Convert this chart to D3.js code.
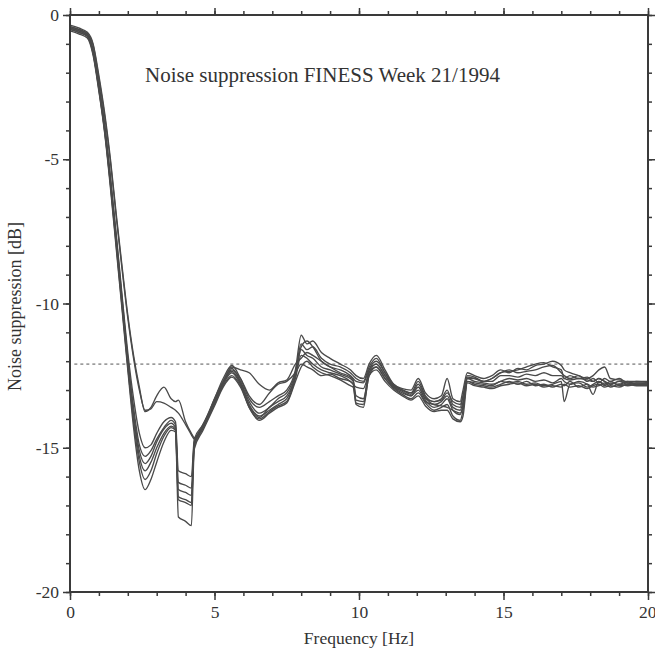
<!DOCTYPE html>
<html><head><meta charset="utf-8">
<script src="https://cdn.jsdelivr.net/npm/d3@7"></script>
<style>body{margin:0;background:#fff}svg text{font-family:"Liberation Serif","Times New Roman",serif;fill:#333}</style>
</head><body><svg id="c" width="655" height="653"></svg>
<script>
const freq = [0,0.3,0.6,0.8,1.0,1.2,1.4,1.6,1.8,2.0,2.2,2.4,2.6,2.8,3.0,
  3.25,3.5,3.65,3.75,4.0,4.2,4.3,4.6,
  5.0,5.3,5.6,5.9,6.2,6.55,6.9,7.2,7.5,7.8,8.0,8.2,8.4,8.7,9.0,
  9.35,9.7,9.8,9.9,10.15,10.35,10.6,10.9,11.2,11.5,11.8,12.05,12.3,12.6,12.85,
  13.05,13.25,13.5,13.6,13.75,14.0,14.3,14.6,14.9,15.2,15.5,15.8,16.1,
  16.4,16.7,17.0,17.1,17.3,17.6,17.9,18.1,18.3,18.5,18.7,19.0,19.3,19.6,20.0];

const seriesA = [-0.35,-0.45,-0.6,-1.0,-2.1,-3.4,-5.0,-6.9,-8.7,-10.4,-11.8,-12.9,-13.75,-13.6,-13.2,
  -12.9,-13.3,-13.4,-13.35,-14.1,-14.5,-14.65,-14.3,
  -13.3,-12.7,-12.2,-12.3,-12.4,-12.8,-13.0,-12.75,-12.65,-12.1,-11.9,-11.7,-11.8,-12.0,-12.2,
  -12.3,-12.5,-12.6,-12.7,-12.75,-12.3,-12.1,-12.5,-12.85,-13.0,-13.1,-12.9,-13.3,-13.4,-13.35,
  -13.1,-13.4,-13.5,-13.2,-12.6,-12.6,-12.7,-12.6,-12.4,-12.35,-12.3,-12.2,-12.1,
  -12.05,-12.2,-12.3,-12.6,-12.5,-12.6,-12.55,-12.7,-12.6,-12.7,-12.8,-12.7,-12.8,-12.75,-12.75];
const seriesB = [-0.4,-0.5,-0.65,-1.05,-2.2,-3.5,-5.1,-7.0,-8.8,-10.5,-11.9,-13.0,-13.7,-13.65,-13.4,
  -13.45,-13.6,-13.7,-13.8,-14.2,-14.55,-14.7,-14.2,
  -13.4,-12.75,-12.3,-12.6,-13.2,-13.5,-13.1,-12.8,-12.7,-12.4,-12.1,-12.2,-12.3,-12.5,-12.45,
  -12.6,-12.7,-12.8,-13.45,-13.5,-12.5,-12.2,-12.6,-12.9,-13.05,-13.2,-13.0,-13.4,-13.5,-13.55,
  -13.6,-13.7,-13.8,-13.6,-12.7,-12.75,-12.8,-12.85,-12.7,-12.75,-12.7,-12.8,-12.75,
  -12.85,-12.8,-12.7,-13.4,-12.8,-12.75,-12.9,-12.8,-12.7,-12.85,-12.75,-12.8,-12.7,-12.8,-12.8];
const seriesC = [-0.4,-0.5,-0.65,-1.2,-2.4,-3.8,-5.6,-7.6,-9.7,-11.7,-13.3,-14.5,-15.0,-14.9,-14.5,
  -14.1,-13.95,-14.1,-15.8,-15.9,-16.0,-14.7,-14.2,
  -13.3,-12.6,-12.15,-12.6,-13.3,-13.6,-13.4,-13.2,-13.0,-12.3,-11.1,-11.4,-11.3,-11.7,-11.9,
  -12.1,-12.3,-12.4,-12.5,-12.6,-12.1,-11.8,-12.3,-12.8,-12.95,-13.0,-12.6,-13.1,-13.3,-13.2,
  -12.6,-13.3,-13.4,-13.0,-12.4,-12.5,-12.6,-12.5,-12.3,-12.4,-12.25,-12.3,-12.15,
  -12.1,-12.0,-12.15,-12.3,-12.4,-12.5,-12.6,-12.5,-12.3,-12.2,-12.6,-12.65,-12.7,-12.7,-12.7];
const seriesD = [-0.45,-0.55,-0.7,-1.25,-2.45,-3.85,-5.7,-7.7,-9.8,-11.9,-13.6,-14.9,-15.3,-15.1,-14.7,
  -14.3,-14.05,-14.2,-16.2,-16.3,-16.4,-14.8,-14.25,
  -13.35,-12.7,-12.25,-12.7,-13.4,-13.8,-13.6,-13.3,-13.1,-12.4,-11.4,-11.6,-11.5,-11.9,-12.1,
  -12.2,-12.4,-12.5,-12.6,-12.7,-12.2,-11.9,-12.4,-12.85,-13.0,-13.1,-12.7,-13.2,-13.4,-13.3,
  -13.0,-13.5,-13.6,-13.2,-12.5,-12.55,-12.7,-12.6,-12.4,-12.3,-12.4,-12.35,-12.3,
  -12.2,-12.15,-12.4,-12.5,-12.6,-12.5,-12.7,-12.6,-12.75,-12.6,-12.7,-12.6,-12.75,-12.7,-12.75];
const seriesE = [-0.5,-0.6,-0.72,-1.3,-2.5,-3.9,-5.75,-7.8,-9.9,-12.0,-13.8,-15.1,-15.55,-15.3,-14.8,
  -14.35,-14.15,-14.3,-16.45,-16.55,-16.65,-14.85,-14.3,
  -13.4,-12.75,-12.35,-12.75,-13.5,-13.9,-13.7,-13.5,-13.3,-12.5,-11.6,-11.8,-11.9,-12.2,-12.3,
  -12.45,-12.6,-12.7,-13.2,-13.3,-12.4,-12.1,-12.5,-12.9,-13.1,-13.2,-12.9,-13.35,-13.6,-13.5,
  -13.3,-13.7,-13.85,-13.5,-12.6,-12.7,-12.75,-12.8,-12.7,-12.6,-12.65,-12.6,-12.7,
  -12.65,-12.75,-12.6,-12.7,-12.8,-12.7,-12.8,-13.15,-12.7,-12.8,-12.7,-12.85,-12.8,-12.75,-12.8];
const seriesF = [-0.45,-0.55,-0.7,-1.3,-2.55,-4.0,-5.85,-7.9,-10.0,-12.1,-13.9,-15.3,-15.8,-15.5,-15.0,
  -14.5,-14.25,-14.35,-16.7,-16.8,-16.9,-14.9,-14.3,
  -13.45,-12.8,-12.4,-12.8,-13.6,-14.0,-13.75,-13.55,-13.4,-12.6,-11.8,-11.9,-12.1,-12.3,-12.4,
  -12.5,-12.7,-12.8,-12.9,-12.95,-12.4,-12.2,-12.6,-12.95,-13.15,-13.3,-13.1,-13.45,-13.7,-13.6,
  -13.5,-13.9,-14.05,-13.7,-12.7,-12.8,-12.85,-12.9,-12.8,-12.7,-12.8,-12.7,-12.85,
  -12.8,-12.9,-12.8,-12.85,-12.7,-12.9,-12.8,-12.9,-12.85,-12.75,-12.9,-12.8,-12.85,-12.8,-12.8];
const seriesG = [-0.5,-0.6,-0.75,-1.35,-2.6,-4.05,-5.9,-8.0,-10.1,-12.2,-14.1,-15.5,-16.1,-15.8,-15.2,
  -14.6,-14.3,-14.4,-16.8,-16.9,-17.0,-14.95,-14.35,
  -13.5,-12.85,-12.5,-12.85,-13.55,-13.95,-13.6,-13.4,-13.2,-12.5,-11.5,-11.3,-11.5,-12.0,-12.2,
  -12.4,-12.55,-12.65,-13.35,-13.4,-12.3,-12.0,-12.4,-12.8,-13.0,-13.15,-12.8,-13.25,-13.5,-13.4,
  -13.2,-13.6,-13.7,-13.4,-12.55,-12.6,-12.7,-12.7,-12.5,-12.5,-12.55,-12.45,-12.5,
  -12.4,-12.5,-12.5,-12.6,-12.65,-12.6,-12.65,-12.7,-12.6,-12.7,-12.8,-12.7,-12.75,-12.8,-12.8];
const seriesH = [-0.55,-0.65,-0.8,-1.4,-2.65,-4.1,-6.0,-8.1,-10.2,-12.3,-14.3,-15.8,-16.45,-16.1,-15.5,
  -14.8,-14.4,-14.45,-17.4,-17.55,-17.7,-15.05,-14.4,
  -13.55,-12.9,-12.55,-12.9,-13.6,-14.05,-13.8,-13.6,-13.45,-12.7,-12.2,-12.0,-12.2,-12.4,-12.5,
  -12.65,-12.85,-12.9,-13.5,-13.6,-12.5,-12.3,-12.7,-13.0,-13.2,-13.35,-13.2,-13.55,-13.75,-13.7,
  -13.7,-14.0,-14.1,-13.9,-12.75,-12.85,-12.9,-12.95,-12.85,-12.8,-12.75,-12.85,-12.8,
  -12.9,-12.85,-12.9,-12.8,-12.9,-12.85,-12.95,-12.85,-12.8,-12.9,-12.85,-12.9,-12.8,-12.85,-12.85];

const allSeries = [seriesA, seriesB, seriesC, seriesD, seriesE, seriesF, seriesG, seriesH];
const xTicks = [0, 5, 10, 15, 20];
const yTicks = [0, -5, -10, -15, -20];
const xMinor = d3.range(0, 21, 1);
const yMinor = d3.range(0, -21, -1);
const refLevel = -12.1;
const titleText = "Noise suppression FINESS Week 21/1994";
const xLabel = "Frequency [Hz]";
const yLabel = "Noise suppression [dB]";

const serif = '"Liberation Serif","Times New Roman",serif';
const svg = d3.select("#c");
const L = 70, R = 648, T = 15, B = 592;
const x = d3.scaleLinear().domain([0, 20]).range([L, R]);
const y = d3.scaleLinear().domain([0, -20]).range([T, B]);
const ink = "#3a3a3a";

// reference dashed line
svg.append("line")
  .attr("x1", x(0.15)).attr("x2", x(20)).attr("y1", y(refLevel)).attr("y2", y(refLevel))
  .attr("stroke", "#555").attr("stroke-width", 1).attr("stroke-dasharray", "3,3");

// curves
const line = d3.line().x((d, i) => x(freq[i])).y(d => y(d)).curve(d3.curveMonotoneX);
svg.append("g").selectAll("path").data(allSeries).join("path")
  .attr("d", line).attr("fill", "none").attr("stroke", "#4a4a4a")
  .attr("stroke-width", 1.35).attr("stroke-linejoin", "round");

// frame
svg.append("rect").attr("x", L).attr("y", T).attr("width", R - L).attr("height", B - T)
  .attr("fill", "none").attr("stroke", ink).attr("stroke-width", 2);

function styleAxis(g) {
  g.attr("font-family", serif);
  g.select(".domain").remove();
  g.selectAll(".tick line").attr("stroke", ink).attr("stroke-width", 1.5);
  g.selectAll(".tick text").attr("fill", "#333").style("font-size", "17.5px").style("font-family", serif);
}
// bottom
svg.append("g").attr("transform", `translate(0,${B})`)
  .call(d3.axisBottom(x).tickValues(xMinor).tickFormat("").tickSize(4)).call(styleAxis);
const bottomMajor = svg.append("g").attr("transform", `translate(0,${B})`)
  .call(d3.axisBottom(x).tickValues(xTicks).tickFormat(d3.format("d")).tickSize(8).tickPadding(6)).call(styleAxis);
// keep the last label inside the picture
bottomMajor.selectAll(".tick text").filter(d => d === 20).attr("text-anchor", "end").attr("dx", "8");
// top
svg.append("g").attr("transform", `translate(0,${T})`)
  .call(d3.axisTop(x).tickValues(xMinor).tickFormat("").tickSize(4)).call(styleAxis);
svg.append("g").attr("transform", `translate(0,${T})`)
  .call(d3.axisTop(x).tickValues(xTicks).tickFormat("").tickSize(7)).call(styleAxis);
// left
svg.append("g").attr("transform", `translate(${L},0)`)
  .call(d3.axisLeft(y).tickValues(yMinor).tickFormat("").tickSize(4)).call(styleAxis);
svg.append("g").attr("transform", `translate(${L},0)`)
  .call(d3.axisLeft(y).tickValues(yTicks).tickFormat(d3.format("d")).tickSize(7).tickPadding(4)).call(styleAxis);
// right
svg.append("g").attr("transform", `translate(${R},0)`)
  .call(d3.axisRight(y).tickValues(yMinor).tickFormat("").tickSize(4)).call(styleAxis);
svg.append("g").attr("transform", `translate(${R},0)`)
  .call(d3.axisRight(y).tickValues(yTicks).tickFormat("").tickSize(7)).call(styleAxis);

svg.selectAll(".tick text").text(function() { return d3.select(this).text().replace("\u2212", "-"); });

// titles
svg.append("text").attr("x", 145).attr("y", 82).style("font-size", "21px").style("font-family", serif).text(titleText);
svg.append("text").attr("x", x(10)).attr("y", 644).attr("text-anchor", "middle")
  .style("font-size", "17.5px").style("font-family", serif).text(xLabel);
svg.append("text").attr("transform", `translate(21,${y(-10.1)}) rotate(-90)`)
  .attr("text-anchor", "middle").style("font-size", "18px").style("font-family", serif).text(yLabel);
</script></body></html>
